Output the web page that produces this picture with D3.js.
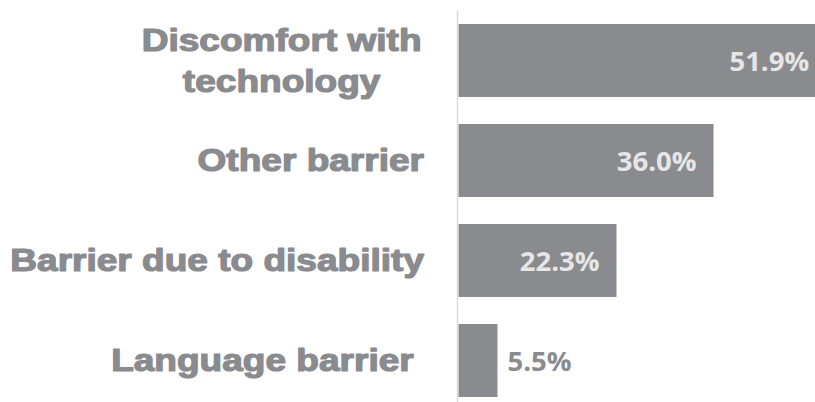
<!DOCTYPE html>
<html>
<head>
<meta charset="utf-8">
<script src="https://cdn.jsdelivr.net/npm/d3@7"></script>
<style>
  html, body { margin: 0; padding: 0; background: #fff; }
  svg { display: block; }
</style>
</head>
<body>
<svg id="chart" width="815" height="402"></svg>
<script>
// Barriers reported, share of respondents (%)
const categories = ["Discomfort with\ntechnology", "Other barrier", "Barrier due to disability", "Language barrier "];
const values = [51.9, 36.0, 22.3, 5.5];
const valueLabels = ["51.9%", "36.0%", "22.3%", "5.5%"];

const W = 815, H = 402;
const barColor = "#8a8b8f";
const textColor = "#8a8b8f";
const insideLabelColor = "#e6e6e7";

const svg = d3.select("#chart");

const x = d3.scaleLinear().domain([0, 60]).range([458.5, 883.6]);
const y = d3.scaleBand()
  .domain(categories)
  .range([10.5, 410.5])
  .paddingInner(0.27)
  .paddingOuter(0.135);

// bars
svg.append("g").selectAll("rect")
  .data(values)
  .join("rect")
  .attr("x", x(0))
  .attr("y", (d, i) => y(categories[i]))
  .attr("width", d => x(d) - x(0))
  .attr("height", y.bandwidth())
  .attr("fill", barColor);

// vertical category axis line
svg.append("line")
  .attr("x1", 457.5).attr("x2", 457.5)
  .attr("y1", 10).attr("y2", H)
  .attr("stroke", "#d9d9d9")
  .attr("stroke-width", 1.5);

// value labels: inside the bar end when they fit, otherwise just past it
const vg = svg.append("g")
  .attr("font-family", "'Open Sans', 'DejaVu Sans', sans-serif")
  .attr("font-weight", 700)
  .attr("font-size", 27.5);

values.forEach((v, i) => {
  const cy = y(categories[i]) + y.bandwidth() / 2;
  const t = vg.append("text").text(valueLabels[i]).attr("y", cy + 10);
  const w = t.node().getComputedTextLength();
  const barW = x(v) - x(0);
  if (barW > w + 34) {
    t.attr("x", x(v) - 17).attr("text-anchor", "end").attr("fill", insideLabelColor);
  } else {
    t.attr("x", x(v) + 10).attr("text-anchor", "start").attr("fill", textColor);
  }
});

// category labels (heavy sans, widened)
const labelRight = 424;
const sx = 1.215;
const lineH = 41;
const cg = svg.append("g")
  .attr("font-family", "'Liberation Sans', Arial, sans-serif")
  .attr("font-weight", 700)
  .attr("font-size", 30.5)
  .attr("fill", textColor)
  .attr("stroke", textColor)
  .attr("stroke-width", 1.2)
  .attr("stroke-linejoin", "round");

categories.forEach(c => {
  const lines = c.split("\n");
  const cy = y(c) + y.bandwidth() / 2;
  const n = lines.length;
  const base = cy + 11 - (n - 1) * lineH / 2;
  const g = cg.append("g").attr("transform", `translate(${labelRight},0) scale(${sx},1)`);
  const texts = lines.map((ln, k) => g.append("text")
    .attr("xml:space", "preserve")
    .style("white-space", "pre")
    .attr("y", base + k * lineH)
    .text(ln));
  if (n === 1) {
    texts[0].attr("x", 0).attr("text-anchor", "end");
  } else {
    const widths = texts.map(t => t.node().getComputedTextLength());
    const maxW = d3.max(widths);
    texts.forEach(t => t.attr("x", -maxW / 2 - 2).attr("text-anchor", "middle"));
  }
});
</script>
</body>
</html>
